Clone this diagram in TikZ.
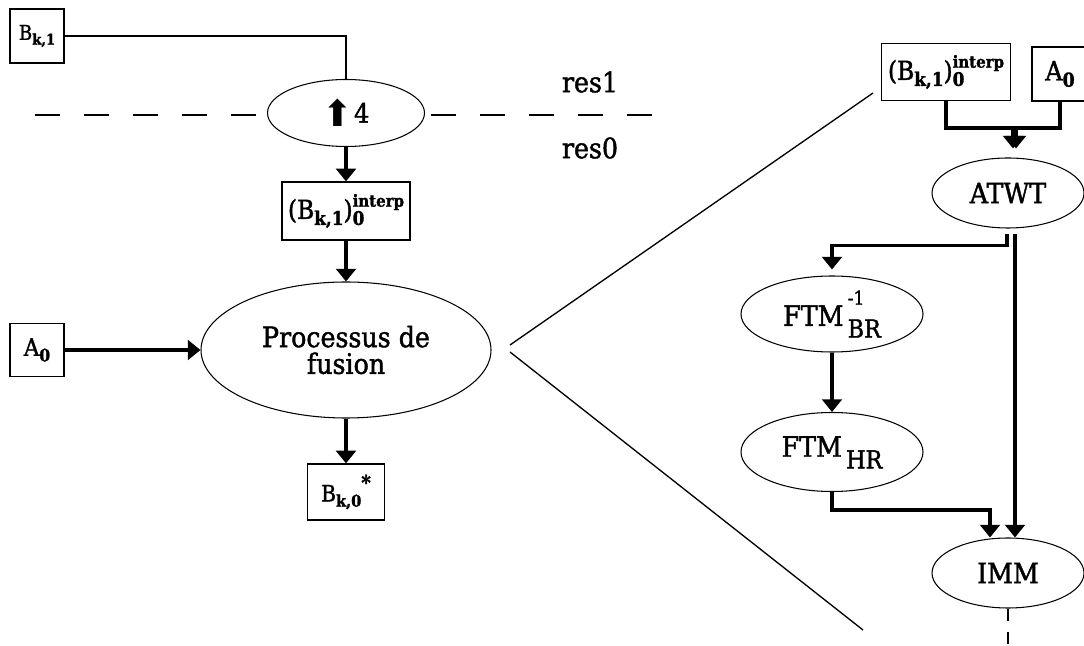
\documentclass[tikz,border=0pt]{standalone}
\usepackage{fontspec}
\setmainfont{DejaVu Serif Condensed}[FakeBold=1.5]
\newfontfamily\arrowfont{DejaVu Sans}
\usetikzlibrary{arrows.meta,shapes.geometric}
\newcommand\ssub[1]{\raisebox{-0.45ex}{\scalebox{0.72}{\bfseries #1}}}
\newcommand\ssup[1]{\raisebox{1.0ex}{\scalebox{0.9}{\bfseries #1}}}
\newcommand\ssubsup[2]{\makebox[0pt][l]{\ssub{#1}}\raisebox{0.9ex}{\scalebox{0.64}{\bfseries #2}}}
\newcommand\ftmss[2]{\hspace{0.15em}\makebox[0pt][l]{\raisebox{1.45ex}{\scalebox{0.68}{#1}}}\raisebox{-0.8ex}{\scalebox{0.88}{#2}}}

\begin{document}
\begin{tikzpicture}[
  box/.style={draw,line width=0.9pt,inner sep=0pt,align=center},
  oval/.style={draw,ellipse,line width=0.75pt,inner sep=0pt,align=center},
  arr/.style={-{Triangle[length=9pt,width=14pt]},line width=2.8pt},
  link/.style={line width=0.95pt},
  cut/.style={line width=0.95pt,dash pattern=on 0.625cm off 0.6cm},
  big/.style={font=\fontsize{20}{19}\selectfont},
]
\useasboundingbox (0,0) rectangle (27.1,-16.15);

% left part: res1 -> res0
\node[box,minimum width=1.35cm,minimum height=1.35cm,font=\fontsize{14.5}{16}\selectfont] (bk1) at (0.925,-0.9) {B\ssub{k,1}};
\node[oval,minimum width=3.925cm,minimum height=1.675cm,font=\fontsize{19}{18}\selectfont] (up4) at (8.65,-2.825) {\raisebox{-0.3ex}{\arrowfont\fontsize{26}{26}\selectfont ⬆}\hspace{0.03em}4};
\node[big] (res1) at (14.75,-2.05) {res1};
\node[big] (res0) at (14.75,-3.7) {res0};
\node[box,minimum width=3.2cm,minimum height=1.45cm,font=\fontsize{18.5}{20}\selectfont] (interpL) at (8.65,-5.275) {(B\ssub{k,1})\ssubsup{0}{interp}};
\node[oval,big,minimum width=7.25cm,minimum height=3.4cm] (fusion) at (8.65,-8.75) {Processus de\\fusion};
\node[box,minimum width=1.35cm,minimum height=1.325cm,font=\fontsize{17}{19}\selectfont] (a0L) at (0.925,-8.75) {A\ssub{0}};
\node[box,minimum width=1.925cm,minimum height=1.4cm,font=\fontsize{16}{18}\selectfont] (bk0) at (8.65,-12.3) {B\ssub{k,0}\ssup{*}};

\coordinate (cutL) at (0.875,-2.875);
\coordinate (cutR) at (16.375,-2.875);
\draw[link] (bk1.east) -| (up4.north);
\draw[cut] (cutL) -- (cutL -| up4.west);
\draw[cut] ([xshift=0.15cm]up4.east |- cutR) -- (cutR);
\draw[arr] (up4) -- (interpL);
\draw[arr] (interpL) -- (fusion);
\draw[arr] (a0L) -- (fusion);
\draw[arr] (fusion) -- (bk0);

% zoom on the fusion
\coordinate (apexU) at (12.75,-8.625);
\coordinate (apexD) at (12.75,-8.8);
\coordinate (zoomU) at (21.825,-2.325);
\coordinate (zoomD) at (21.575,-15.75);
\draw[link] (apexU) -- (zoomU);
\draw[link] (apexD) -- (zoomD);

% right part
\node[box,minimum width=3.225cm,minimum height=1.425cm,font=\fontsize{18.5}{20}\selectfont] (interpR) at (23.65,-1.8) {(B\ssub{k,1})\ssubsup{0}{interp}};
\node[box,minimum width=1.4cm,minimum height=1.35cm,font=\fontsize{19}{20}\selectfont] (a0R) at (26.5,-1.85) {A\ssub{0}};
\node[oval,big,minimum width=3.8cm,minimum height=1.75cm] (atwt) at (25.2,-4.825) {ATWT};
\node[oval,big,minimum width=4.55cm,minimum height=1.9cm] (ftmbr) at (20.8,-7.85) {FTM\ftmss{-1}{BR}};
\node[oval,big,minimum width=4.55cm,minimum height=1.975cm] (ftmhr) at (20.8,-11.3) {FTM\ftmss{}{HR}};
\node[oval,big,minimum width=3.8cm,minimum height=1.75cm] (imm) at (25.2,-14.325) {IMM};

\coordinate (immOut) at (25.2,-16.3);
\draw[arr,shorten >=0.225cm] (interpR.south) -- ++(0,-0.675) -| ([xshift=0.125cm]atwt.north);
\draw[arr,shorten >=0.225cm] (a0R.south) -- ++(0,-0.65) -| ([xshift=0.2cm]atwt.north);
\draw[arr,shorten >=0.15cm] ([xshift=-0.025cm,yshift=-0.125cm]atwt.south) -- ++(0,-0.3) -| (ftmbr.north);
\draw[arr] ([xshift=0.175cm,yshift=-0.125cm]atwt.south) -- ([xshift=0.175cm]imm.north);
\draw[arr] (ftmbr) -- (ftmhr);
\draw[arr] (ftmhr.south) -- ++(0,-0.45) -| ([xshift=-0.45cm]imm.north);
\draw[link,dash pattern=on 0.3cm off 0.28cm] (imm.south) -- (immOut);
\end{tikzpicture}
\end{document}
